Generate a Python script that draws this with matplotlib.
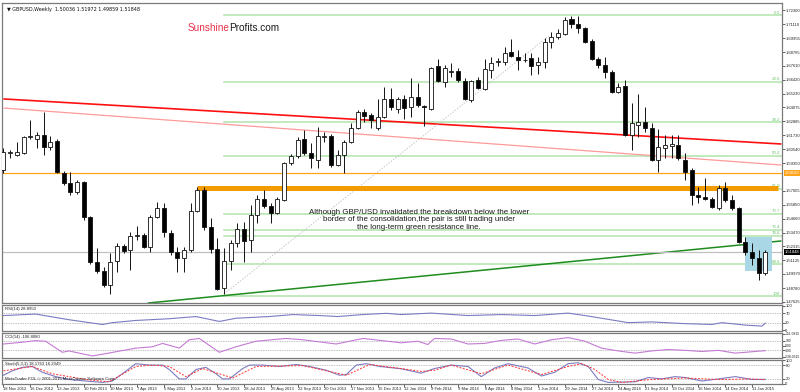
import matplotlib
matplotlib.use('Agg')
import matplotlib.pyplot as plt
import matplotlib.transforms as mtransforms
from matplotlib.patches import Rectangle

plt.rcParams['font.family'] = ['Liberation Sans', 'DejaVu Sans']

# ---------------- data ----------------
dates = ['18 Nov 2012', '16 Dec 2012', '13 Jan 2013', '10 Feb 2013', '10 Mar 2013', '7 Apr 2013',
         '5 May 2013', '2 Jun 2013', '30 Jun 2013', '28 Jul 2013', '25 Aug 2013', '22 Sep 2013',
         '20 Oct 2013', '17 Nov 2013', '15 Dec 2013', '12 Jan 2014', '9 Feb 2014', '9 Mar 2014',
         '6 Apr 2014', '4 May 2014', '1 Jun 2014', '29 Jun 2014', '27 Jul 2014', '24 Aug 2014',
         '21 Sep 2014', '19 Oct 2014', '16 Nov 2014', '14 Dec 2014', '11 Jan 2015']

opens = [1.5877, 1.6021, 1.6004, 1.6021, 1.6157, 1.6140, 1.6174, 1.6072, 1.6123, 1.5852,
         1.5767, 1.5691, 1.5776, 1.5479, 1.5098, 1.5022, 1.4903, 1.5106, 1.5234, 1.5200,
         1.5318, 1.5327, 1.5225, 1.5479, 1.5555, 1.5344, 1.5183, 1.5132, 1.5200, 1.5530,
         1.5708, 1.5394, 1.5208, 1.4878, 1.5106, 1.5259, 1.5378, 1.5284, 1.5496, 1.5632,
         1.5572, 1.5513, 1.5623, 1.5936, 1.5996, 1.6140, 1.6021, 1.5962, 1.6157, 1.6165,
         1.5919, 1.6004, 1.6114, 1.6233, 1.6368, 1.6343, 1.6233, 1.6326, 1.6479, 1.6394,
         1.6479, 1.6411, 1.6495, 1.6419, 1.6394, 1.6758, 1.6623, 1.6707, 1.6716, 1.6631,
         1.6470, 1.6639, 1.6563, 1.6724, 1.6792, 1.6792, 1.6877, 1.6834, 1.6809, 1.6826,
         1.6767, 1.6792, 1.6961, 1.7004, 1.7029, 1.7156, 1.7114, 1.7080, 1.6970, 1.6817,
         1.6767, 1.6707, 1.6538, 1.6589, 1.6174, 1.6258, 1.6284, 1.6233, 1.5962, 1.6063,
         1.6080, 1.6089, 1.5962, 1.5877, 1.5665, 1.5649, 1.5632, 1.5555, 1.5725, 1.5623,
         1.5555, 1.5267, 1.5183, 1.5132, 1.50036]
highs = [1.6063, 1.6047, 1.6114, 1.6165, 1.6301, 1.6199, 1.6368, 1.6165, 1.6140, 1.5869,
         1.5860, 1.5792, 1.5784, 1.5488, 1.5217, 1.5056, 1.5174, 1.5259, 1.5250, 1.5352,
         1.5403, 1.5344, 1.5496, 1.5606, 1.5598, 1.5369, 1.5225, 1.5225, 1.5598, 1.5733,
         1.5733, 1.5471, 1.5301, 1.5217, 1.5284, 1.5428, 1.5437, 1.5581, 1.5665, 1.5708,
         1.5598, 1.5649, 1.5945, 1.6013, 1.6157, 1.6216, 1.6106, 1.6241, 1.6199, 1.6182,
         1.6047, 1.6131, 1.6275, 1.6385, 1.6394, 1.6360, 1.6479, 1.6580, 1.6572, 1.6495,
         1.6512, 1.6656, 1.6614, 1.6428, 1.6750, 1.6817, 1.6767, 1.6783, 1.6741, 1.6656,
         1.6639, 1.6665, 1.6817, 1.6834, 1.6826, 1.6919, 1.6987, 1.6894, 1.6868, 1.6868,
         1.6834, 1.6995, 1.7046, 1.7072, 1.7173, 1.7182, 1.7182, 1.7088, 1.6987, 1.6834,
         1.6834, 1.6724, 1.6614, 1.6639, 1.6445, 1.6521, 1.6411, 1.6275, 1.6225, 1.6174,
         1.6174, 1.6174, 1.6021, 1.5894, 1.5733, 1.5809, 1.5649, 1.5750, 1.5776, 1.5665,
         1.5564, 1.5310, 1.5259, 1.5200, 1.51972]
lows = [1.5852, 1.5979, 1.5996, 1.6013, 1.6140, 1.6063, 1.6004, 1.6047, 1.5852, 1.5750,
        1.5665, 1.5674, 1.5454, 1.5081, 1.5005, 1.4886, 1.4827, 1.5013, 1.5174, 1.5030,
        1.5284, 1.5217, 1.5183, 1.5471, 1.5310, 1.5157, 1.5013, 1.5013, 1.5183, 1.5521,
        1.5369, 1.5174, 1.4861, 1.4827, 1.5030, 1.5225, 1.5098, 1.5183, 1.5428, 1.5555,
        1.5428, 1.5505, 1.5615, 1.5919, 1.5979, 1.6004, 1.5894, 1.5894, 1.6114, 1.5903,
        1.5911, 1.5852, 1.6106, 1.6225, 1.6284, 1.6233, 1.6216, 1.6318, 1.6385, 1.6360,
        1.6309, 1.6326, 1.6411, 1.6250, 1.6385, 1.6623, 1.6580, 1.6665, 1.6623, 1.6470,
        1.6453, 1.6563, 1.6555, 1.6656, 1.6758, 1.6767, 1.6834, 1.6724, 1.6792, 1.6682,
        1.6690, 1.6741, 1.6910, 1.6987, 1.7021, 1.7080, 1.7038, 1.6953, 1.6809, 1.6741,
        1.6656, 1.6529, 1.6529, 1.6165, 1.6047, 1.6157, 1.6199, 1.5953, 1.5860, 1.5979,
        1.5979, 1.5962, 1.5792, 1.5581, 1.5598, 1.5623, 1.5555, 1.5538, 1.5606, 1.5538,
        1.5259, 1.5157, 1.5073, 1.4946, 1.49859]
closes = [1.6030, 1.6030, 1.6030, 1.6157, 1.6165, 1.6174, 1.6072, 1.6114, 1.5860, 1.5767,
          1.5691, 1.5776, 1.5479, 1.5098, 1.5022, 1.4903, 1.5098, 1.5234, 1.5191, 1.5318,
          1.5327, 1.5225, 1.5479, 1.5555, 1.5352, 1.5183, 1.5132, 1.5200, 1.5530, 1.5708,
          1.5394, 1.5208, 1.4869, 1.5106, 1.5259, 1.5378, 1.5276, 1.5496, 1.5632, 1.5572,
          1.5513, 1.5632, 1.5936, 1.5996, 1.6131, 1.6021, 1.5979, 1.6165, 1.6165, 1.5919,
          1.6004, 1.6114, 1.6233, 1.6368, 1.6335, 1.6301, 1.6326, 1.6479, 1.6411, 1.6479,
          1.6402, 1.6495, 1.6428, 1.6411, 1.6741, 1.6631, 1.6741, 1.6716, 1.6639, 1.6479,
          1.6631, 1.6572, 1.6733, 1.6783, 1.6800, 1.6868, 1.6843, 1.6809, 1.6805, 1.6758,
          1.6792, 1.6961, 1.7004, 1.7038, 1.7148, 1.7114, 1.7080, 1.6961, 1.6817, 1.6767,
          1.6707, 1.6538, 1.6580, 1.6174, 1.6275, 1.6284, 1.6233, 1.5962, 1.6072, 1.6089,
          1.6097, 1.5979, 1.5860, 1.5665, 1.5649, 1.5632, 1.5564, 1.5725, 1.5623, 1.5555,
          1.5267, 1.5183, 1.5132, 1.5005, 1.51848]

price_ticks = [1.72300, 1.71110, 1.69955, 1.68765, 1.67610, 1.66420, 1.65230, 1.64075, 1.62885,
               1.61730, 1.60540, 1.59350, 1.57005, 1.55850, 1.54660, 1.53470, 1.52315,
               1.51125, 1.49970, 1.48780, 1.47625]

fib_labels = ['0.0', '23.6', '38.2', '50.0', '61.8', '70.7', '76.4', '78.6', '88.6', '100']
fib_prices = [1.7188, 1.6627, 1.6280, 1.5999, 1.5718, 1.5507, 1.5371, 1.5319, 1.5081, 1.4810]
fib_start = 33

red_line = ([0.1, 116.3], [1.6479, 1.6098])
pink_line = ([0.1, 116.3], [1.6402, 1.5920])
green_line = ([21.7, 116.3], [1.4751, 1.5276])
dotted_line = ([33.0, 81.6], [1.4827, 1.7012])
orange_band = ([29.0, 115.9], 1.5722)
orange_level = 1.5852
last_price = 1.51848
box_x = (110.9, 115.0)
box_y = (1.5020, 1.5313)

rsi_x = [0, 4.8, 9.8, 14.8, 16.3, 19.8, 24.8, 28.8, 32.3, 34.8, 39.8, 43.3, 47.3, 50, 53.8,
         57.3, 59.5, 64, 69.5, 74.5, 79.5, 84.5, 87, 89.5, 93.5, 97, 102, 106, 107.5, 111,
         113.5, 114]
rsi_v = [60, 66, 43, 23.5, 31, 40, 47, 56, 36, 49, 56, 64, 60, 56, 64, 69, 64, 70, 60, 64,
         60, 70, 60, 49, 31, 34, 27, 23.5, 31, 21, 17, 28.9]

cci_x = [0, 2.3, 4.8, 6.3, 8.8, 9.8, 13.3, 14.8, 19.8, 22.3, 23.8, 26.3, 27.8, 29.3, 32.3,
         34.8, 37.8, 42.3, 44.8, 49.8, 53.8, 59.5, 62, 63.5, 64.5, 67, 69.5, 72, 74.5, 77,
         79.5, 82, 84.5, 87, 89.5, 92, 94.5, 97, 99.5, 102, 104.5, 107, 109.5, 112, 114]
cci_v = [35, 65, 106, 94, -141, -112, -218, -182, -53, -24, 47, -53, 124, 153, -141, -24, 94,
         153, 124, 35, 153, 60, 94, 24, 153, 141, 35, 47, 112, 141, 35, 124, 171, 94, -53,
         -112, -159, -112, -82, -100, -124, -100, -159, -129, -107]

st_x = [0, 1.3, 2.8, 4.3, 5.8, 7.8, 9.8, 12.3, 14.8, 16.3, 17.8, 19.8, 21.8, 23.8, 24.8, 26.3,
        27.3, 28.8, 30.3, 31.8, 32.8, 33.8, 35.8, 36.8, 38.8, 41.3, 43.8, 45.8, 48.3, 50.3,
        51.3, 52.8, 54.3, 56.3, 59.5, 62.5, 64.5, 67, 69.5, 71.5, 73.5, 75.5, 78.5, 80.5,
        82.5, 84.5, 86, 87.5, 89, 90.5, 94.5, 96.5, 98.5, 100.5, 102, 104.5, 107, 109.5, 112,
        114]
st_main = [36, 55, 70, 74, 49, 30, 17.5, 11, 5, 11, 42.5, 86, 80, 80, 61, 20, 20, 61, 70, 42.5,
           20, 20, 65, 80, 80, 74, 82.5, 74, 57.5, 36, 39, 80, 86, 74, 64, 45, 65, 80, 74, 30,
           67.5, 86, 67.5, 32.5, 49, 86, 90, 74, 17.5, 5, 7.5, 26, 20, 30, 26, 11, 20, 30,
           17.5, 18.2]
sig_x = [0, 4.3, 7.3, 12.3, 15.8, 19.8, 22.3, 24.8, 27.3, 29.8, 34.3, 37.8, 44.8, 51.3, 54.8,
         59.5, 62.5, 64.5, 67, 71.5, 75.5, 80.5, 84.5, 86.5, 88.5, 90.5, 92.5, 97, 102, 107,
         112, 114]
st_sig = [55, 74, 42.5, 17.5, 7.5, 74, 80, 74, 30, 65, 24, 74, 77.5, 36, 82.5, 65, 52.5, 57.5,
          80, 42.5, 80, 39, 74, 86, 61, 17.5, 5, 17.5, 24, 17.5, 20, 16.2]

# ---------------- figure ----------------
W, H = 800, 392
fig = plt.figure(figsize=(8, 3.92), dpi=100)
fig.patch.set_facecolor('white')


def pax(x0, y0, x1, y1):
    return fig.add_axes([x0 / W, 1 - y1 / H, (x1 - x0) / W, (y1 - y0) / H])


ax = pax(2, 3, 782, 303)
ax_rsi = pax(2, 305, 782, 331)
ax_cci = pax(2, 333, 782, 358)
ax_st = pax(2, 360, 782, 384)

XLIM = (-0.22, 116.5)
for a in (ax, ax_rsi, ax_cci, ax_st):
    a.set_xlim(*XLIM)
    a.yaxis.tick_right()
    a.tick_params(axis='y', labelsize=3.0, length=1.8, width=0.5, pad=0.6, colors='#222222')
    a.tick_params(axis='x', length=0)
    for s in a.spines.values():
        s.set_color('#7a7a7a')
        s.set_linewidth(0.9)
    a.set_xticks([])

# ---- main panel ----
ax.set_ylim(1.4751, 1.7292)
ax.set_yticks(price_ticks)
ax.set_yticklabels(['%.5f' % t for t in price_ticks])

# fib lines
for lab, p in zip(fib_labels, fib_prices):
    ax.plot([fib_start, XLIM[1]], [p, p], color='#b2e3ab', lw=1.1, zorder=1)
    ax.text(116.2, p + 0.0004, lab, fontsize=3.2, color='#6cc46c', ha='right', va='bottom', zorder=2)

# trend lines
ax.plot(*red_line, color='#ff1010', lw=1.2, zorder=2)
ax.plot(*pink_line, color='#ff9a9a', lw=0.9, zorder=2)
ax.plot(*green_line, color='#1e8c1e', lw=1.1, zorder=2)
ax.plot(*dotted_line, color='#c8c8c8', lw=0.7, ls=(0, (1.5, 1.5)), zorder=2)
ax.axhline(orange_level, color='#ffa31a', lw=0.9, zorder=2)
ax.plot(orange_band[0], [orange_band[1]] * 2, color='#f39c00', lw=3.6, zorder=2,
        solid_capstyle='butt')
ax.axhline(last_price, color='#c0c0c0', lw=0.9, zorder=2)
ax.add_patch(Rectangle((box_x[0], box_y[0]), box_x[1] - box_x[0], box_y[1] - box_y[0],
                       facecolor='#a9d7e6', edgecolor='none', zorder=2))

# candles
for i, (o, h, l, c) in enumerate(zip(opens, highs, lows, closes)):
    ax.vlines(i, l, h, color='#111111', lw=0.7, zorder=3)
    bottom = min(o, c)
    height = max(abs(c - o), 0.0003)
    fc = '#000000' if c < o else '#ffffff'
    ax.add_patch(Rectangle((i - 0.3, bottom), 0.6, height, facecolor=fc,
                           edgecolor='#111111', lw=0.6, zorder=4))

# price boxes on axis
trans = mtransforms.blended_transform_factory(ax.transAxes, ax.transData)
ax.text(1.003, orange_level, '1.58520', transform=trans, fontsize=3.0, color='white',
        va='center', ha='left', zorder=6,
        bbox=dict(boxstyle='square,pad=0.2', fc='#ffa31a', ec='none'), clip_on=False)
ax.text(1.003, last_price, '1.51848', transform=trans, fontsize=3.0, color='white',
        va='center', ha='left', zorder=6,
        bbox=dict(boxstyle='square,pad=0.2', fc='#000000', ec='none'), clip_on=False)

# header text
ax.text(0.006, 0.985, '\u25bc GBPUSD,Weekly  1.50036 1.51972 1.49859 1.51848',
        transform=ax.transAxes, fontsize=3.5, ha='left', va='top', color='#111111',
        family=['DejaVu Sans'])

# watermark
t1 = ax.text(0.238, 0.918, 'Sunshine', transform=ax.transAxes, fontsize=7.2, color='#e8334a',
             ha='left', va='center')
fig.canvas.draw()
bb = t1.get_window_extent()
x_end = ax.transAxes.inverted().transform((bb.x1, bb.y0))[0]
ax.text(x_end, 0.918, 'Profits.com', transform=ax.transAxes, fontsize=7.2, color='#1a1a1a',
        ha='left', va='center')

# annotation
ax.text(62.2, 1.5550, 'Although GBP/USD invalidated the breakdown below the lower\n'
        'border of the consolidation,the pair is still trading under\n'
        'the long-term green resistance line.', fontsize=5.7, color='#1a1a1a',
        ha='center', va='top', linespacing=1.15, zorder=5)

# ---- RSI ----
ax_rsi.set_ylim(-3, 103)
ax_rsi.set_yticks([100, 70, 30, 0])
ax_rsi.set_yticklabels(['100', '70', '30', '0'])
for lv in (70, 30):
    ax_rsi.axhline(lv, color='#888888', lw=0.5, ls=(0, (1, 1.5)))
ax_rsi.plot(rsi_x, rsi_v, color='#7b7bc2', lw=0.8)
ax_rsi.text(0.004, 0.93, 'RSI(14) 28.8950', transform=ax_rsi.transAxes, fontsize=3.1,
            ha='left', va='top', color='#222222')

# ---- CCI ----
ax_cci.set_ylim(-262, 268)
ax_cci.set_yticks([251.0815, 100, 0, -100, -238.0515])
ax_cci.set_yticklabels(['251.0815', '100', '0.00', '-100', '-238.0515'], fontsize=2.4)
for lv in (100, -100):
    ax_cci.axhline(lv, color='#888888', lw=0.5, ls=(0, (1, 1.5)))
ax_cci.plot(cci_x, cci_v, color='#c57ad4', lw=0.8)
ax_cci.text(0.004, 0.93, 'CCI(14) -106.8080', transform=ax_cci.transAxes, fontsize=3.1,
            ha='left', va='top', color='#222222')

# ---- Stochastic ----
ax_st.set_ylim(-2, 102)
ax_st.set_yticks([100, 80, 20, 0])
ax_st.set_yticklabels(['100', '80', '20', '0'])
for lv in (80, 20):
    ax_st.axhline(lv, color='#888888', lw=0.5, ls=(0, (1, 1.5)))
ax_st.plot(st_x, st_main, color='#7b7bc2', lw=0.8)
ax_st.plot(sig_x, st_sig, color='#ff3030', lw=0.7, ls=(0, (2, 1.5)))
ax_st.text(0.004, 0.93, 'Stoch(5,3,3) 18.1763 16.2049', transform=ax_st.transAxes,
           fontsize=3.1, ha='left', va='top', color='#222222')
ax_st.text(0.004, 0.12, 'MetaTrader FOL \u00a9 2001-2015 MetaQuotes Software Corp.',
           transform=ax_st.transAxes, fontsize=3.1, ha='left', va='bottom', color='#222222')

ax_st.set_xticks(list(range(0, 113, 4)))
ax_st.set_xticklabels(dates, fontsize=3.0, ha='left')
ax_st.tick_params(axis='x', length=1.8, width=0.5, pad=0.6, colors='#222222')

fig.savefig('out.png', dpi=100, facecolor='white')
